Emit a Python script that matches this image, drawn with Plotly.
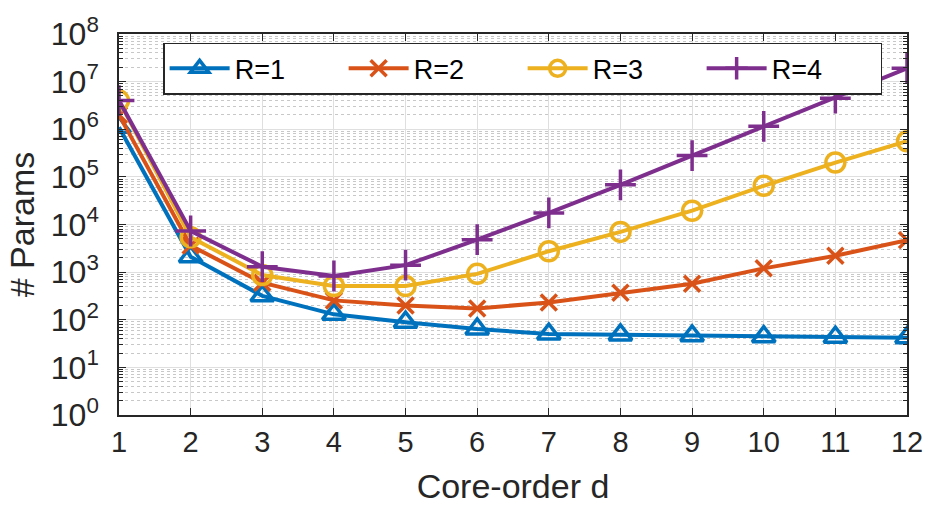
import plotly.graph_objects as go

d = list(range(1, 13))
r1 = [1.1e6, 2100, 318, 130, 89, 64, 50, 48, 46, 44, 43, 42]
r2 = [2.0e6, 3600, 600, 255, 200, 173, 230, 370, 570, 1200, 2200, 4700]
r3 = [4.0e6, 5400, 870, 510, 510, 920, 2750, 7000, 1.95e4, 6.5e4, 2.0e5, 5.6e5]
r4 = [4.0e6, 7300, 1300, 830, 1400, 4800, 1.75e4, 6.8e4, 2.8e5, 1.15e6, 4.5e6, 1.9e7]
names = ["R=1", "R=2", "R=3", "R=4"]
series = [r1, r2, r3, r4]
colors = ["#0072BD", "#D95319", "#EDB120", "#7E2F8E"]
symbols = ["triangle-up-open", "x-thin-open", "circle-open", "cross-thin-open"]
sizes = [20, 16, 19, 22]

ytick_vals = [10 ** k for k in range(0, 9)]
ytick_text = ["10<sup>%d</sup>" % k for k in range(0, 9)]
minor_vals = [m * 10 ** k for k in range(0, 8) for m in range(2, 10)]

fig = go.Figure()
for name, ys, c, s, sz in zip(names, series, colors, symbols, sizes):
    fig.add_trace(go.Scatter(
        x=d, y=ys, name=name, mode="lines+markers",
        line=dict(color=c, width=4),
        marker=dict(symbol=s, size=sz, color=c, line=dict(color=c, width=3.5)),
    ))

font = "Liberation Sans, Arial, sans-serif"
fig.update_layout(
    width=937, height=518,
    margin=dict(l=119, r=30, t=24, b=103),
    paper_bgcolor="white", plot_bgcolor="white",
    font=dict(family=font, size=29, color="#262626"),
    showlegend=True,
    legend=dict(
        orientation="h", x=0.056, y=0.977, xanchor="left", yanchor="top",
        bgcolor="white", bordercolor="#262626", borderwidth=1.5,
        font=dict(size=27, color="#000000"), entrywidth=104, entrywidthmode="pixels",
        itemwidth=60, tracegroupgap=0,
    ),
    xaxis=dict(
        range=[1, 12], tickmode="array", tickvals=d, ticktext=[str(v) for v in d],
        tickfont=dict(size=29),
        title=dict(text="Core-order d", font=dict(size=34), standoff=18),
        showgrid=True, gridcolor="#DFDFDF", gridwidth=1,
        showline=True, linecolor="#262626", linewidth=1.5, mirror="ticks",
        ticks="inside", ticklen=7, tickcolor="#262626", zeroline=False,
    ),
    yaxis=dict(
        type="log", range=[0, 8], tickmode="array", tickvals=ytick_vals, ticktext=ytick_text,
        tickfont=dict(size=32), ticklabelstandoff=12,
        title=dict(text="# Params", font=dict(size=34), standoff=6),
        showgrid=True, gridcolor="#DFDFDF", gridwidth=1,
        showline=True, linecolor="#262626", linewidth=1.5, mirror="ticks",
        ticks="inside", ticklen=7, tickcolor="#262626", zeroline=False,
        minor=dict(tickmode="array", tickvals=minor_vals, showgrid=True,
                   gridcolor="#C8C8C8", griddash="dot", gridwidth=1,
                   ticks="inside", ticklen=4, tickcolor="#262626"),
    ),
)
fig.write_html("out.html", config={"displayModeBar": False},
               post_script="document.body.style.margin='0px';")
